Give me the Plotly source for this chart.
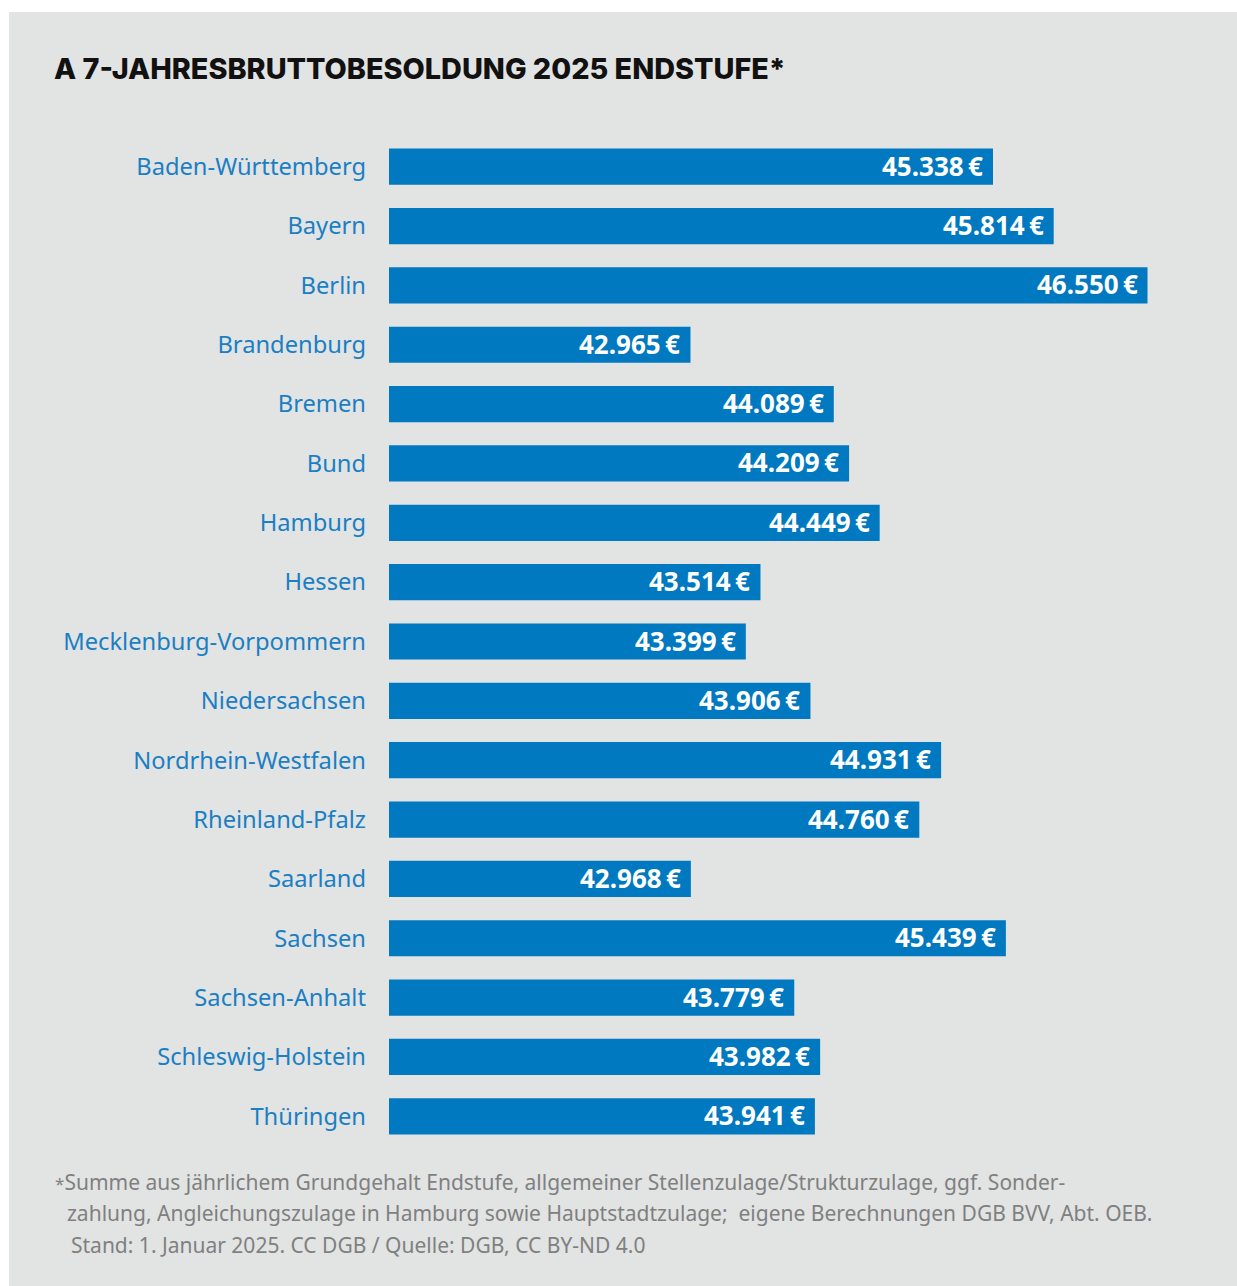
import plotly.graph_objects as go

categories = ["Baden-Württemberg", "Bayern", "Berlin", "Brandenburg", "Bremen", "Bund",
              "Hamburg", "Hessen", "Mecklenburg-Vorpommern", "Niedersachsen",
              "Nordrhein-Westfalen", "Rheinland-Pfalz", "Saarland", "Sachsen",
              "Sachsen-Anhalt", "Schleswig-Holstein", "Thüringen"]
values = [45338, 45814, 46550, 42965, 44089, 44209, 44449, 43514, 43399, 43906,
          44931, 44760, 42968, 45439, 43779, 43982, 43941]
value_labels = ["45.338\u2009€", "45.814\u2009€", "46.550\u2009€", "42.965\u2009€", "44.089\u2009€", "44.209\u2009€",
                "44.449\u2009€", "43.514\u2009€", "43.399\u2009€", "43.906\u2009€", "44.931\u2009€", "44.760\u2009€",
                "42.968\u2009€", "45.439\u2009€", "43.779\u2009€", "43.982\u2009€", "43.941\u2009€"]
title_text = "A 7-JAHRESBRUTTOBESOLDUNG 2025 ENDSTUFE*"
footnote_lines = [
    "<span style='font-size:17px'>*</span>Summe aus jährlichem Grundgehalt Endstufe, allgemeiner Stellenzulage/Strukturzulage, ggf. Sonder-",
    "zahlung, Angleichungszulage in Hamburg sowie Hauptstadtzulage;  eigene Berechnungen DGB BVV, Abt. OEB.",
    "Stand: 1. Januar 2025. CC DGB / Quelle: DGB, CC BY-ND 4.0",
]

W, H = 1237, 1286
L, R, T, B = 389, 47, 137, 140
PW, PH = W - L - R, H - T - B
x_min = 40600
px_per_unit = 0.12748
x_max = x_min + PW / px_per_unit

BG = "#e2e3e3"
BAR = "#0079c1"
LABEL = "#1a7fc3"
FOOT = "#7f8080"

fig = go.Figure()
fig.add_trace(go.Bar(
    y=categories, x=values, orientation="h",
    marker=dict(color=BAR, line=dict(width=0)),
    hoverinfo="skip",
))

for cat, v, lab in zip(categories, values, value_labels):
    fig.add_annotation(x=v, y=cat, xref="x", yref="y", text=lab, showarrow=False,
                       xanchor="right", yanchor="middle", xshift=-8, yshift=1,
                       font=dict(family="Noto Sans", size=26, color="white", weight="bold"))

def px_x(px):
    return (px - L) / PW

def px_y(py):
    return 1 - (py - T) / PH

# white outer frame (left and top strips)
fig.add_shape(type="rect", xref="paper", yref="paper", x0=px_x(0), x1=px_x(9), y0=px_y(H), y1=px_y(0),
              fillcolor="white", line=dict(width=0), layer="below")
fig.add_shape(type="rect", xref="paper", yref="paper", x0=px_x(0), x1=px_x(W), y0=px_y(12), y1=px_y(0),
              fillcolor="white", line=dict(width=0), layer="below")

foot_pos = [(53, 1182), (65, 1213), (69, 1245)]
for (fx, fy), line in zip(foot_pos, footnote_lines):
    fig.add_annotation(x=px_x(fx), y=px_y(fy), xref="paper", yref="paper", text=line,
                       showarrow=False, xanchor="left", yanchor="middle",
                       font=dict(family="Noto Sans", size=21, color=FOOT))

fig.update_layout(
    width=W, height=H,
    margin=dict(l=L, r=R, t=T, b=B, pad=0),
    paper_bgcolor=BG, plot_bgcolor=BG,
    showlegend=False,
    bargap=0.39,
    title=dict(text=title_text, xref="container", yref="container", x=54 / W, y=1 - 69 / H,
               xanchor="left", yanchor="middle",
               font=dict(family="Inter", size=28.8, color="#111111", weight=800)),
    xaxis=dict(range=[x_min, x_max], visible=False, fixedrange=True),
    yaxis=dict(autorange="reversed", showgrid=False, zeroline=False, showline=False,
               ticks="", ticklabelstandoff=22,
               tickfont=dict(family="Noto Sans", size=23.7, color=LABEL), fixedrange=True),
)

fig.write_html("out.html")
